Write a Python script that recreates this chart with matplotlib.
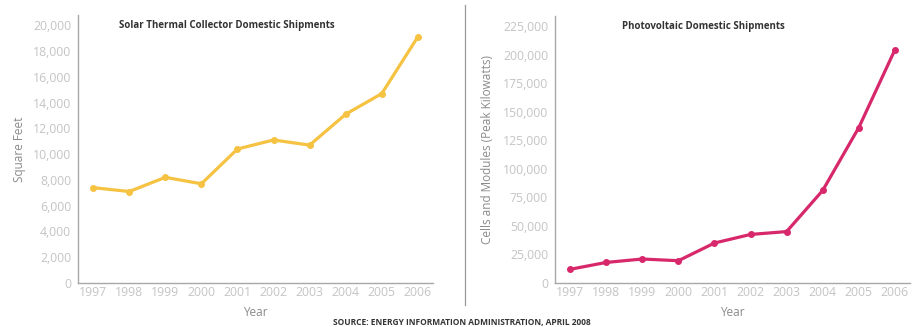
import matplotlib
matplotlib.use("Agg")
import matplotlib.pyplot as plt

years = [1997, 1998, 1999, 2000, 2001, 2002, 2003, 2004, 2005, 2006]
solar_thermal = [7400, 7100, 8200, 7700, 10400, 11100, 10700, 13100, 14700, 19100]
photovoltaic = [12000, 18000, 21000, 19500, 35000, 42500, 45000, 81000, 136000, 204000]

thermal_ticks = list(range(0, 20001, 2000))
pv_ticks = list(range(0, 225001, 25000))

plt.rcParams['font.family'] = ['Open Sans', 'DejaVu Sans']

W, H = 923, 327
fig = plt.figure(figsize=(W / 100, H / 100), dpi=100)
fig.patch.set_facecolor('white')

tick_col = '#c4c4c4'
label_col = '#8a8a8a'
spine_col = '#a8a8a8'


def px_axes(x0, x1, y_top, y_bot):
    return fig.add_axes([x0 / W, (H - y_bot) / H, (x1 - x0) / W, (y_bot - y_top) / H])


def style(ax, ticks, ymax):
    ax.set_xlim(1996.58, 2006.42)
    ax.set_ylim(0, ymax)
    ax.set_xticks(years)
    ax.set_yticks(ticks)
    ax.set_yticklabels([f"{t:,}" for t in ticks])
    for s in ('top', 'right'):
        ax.spines[s].set_visible(False)
    for s in ('left', 'bottom'):
        ax.spines[s].set_color(spine_col)
        ax.spines[s].set_linewidth(1.0)
    ax.tick_params(length=0, labelsize=8.8, labelcolor=tick_col)
    ax.tick_params(axis='y', pad=5)
    ax.tick_params(axis='x', pad=2)
    ax.set_xlabel('Year', fontsize=8.5, color=label_col, labelpad=5)


# left: solar thermal
ax1 = px_axes(78, 433, 15, 283)
ax1.plot(years, solar_thermal, color='#f5c242', lw=2.3, marker='o', ms=4)
style(ax1, thermal_ticks, 20800)
ax1.set_ylabel('Square Feet', fontsize=8.5, color=label_col, labelpad=5)
ax1.text(0.42, 0.962, 'Solar Thermal Collector Domestic Shipments', transform=ax1.transAxes,
         ha='center', va='center', fontsize=7, fontweight='bold', color='#333333')

# right: photovoltaic
ax2 = px_axes(555, 910, 16, 283)
ax2.plot(years, photovoltaic, color='#d8286c', lw=2.3, marker='o', ms=4)
style(ax2, pv_ticks, 233700)
ax2.set_ylabel('Cells and Modules (Peak Kilowatts)', fontsize=8.5, color=label_col, labelpad=6)
ax2.text(0.417, 0.962, 'Photovoltaic Domestic Shipments', transform=ax2.transAxes,
         ha='center', va='center', fontsize=7, fontweight='bold', color='#333333')

# divider between the panels
fig.add_artist(plt.Line2D([465 / W, 465 / W], [(H - 5) / H, (H - 305) / H],
                          color='#999999', lw=0.9))

fig.text(462 / W, (H - 322) / H, 'SOURCE: ENERGY INFORMATION ADMINISTRATION, APRIL 2008',
         ha='center', va='center', fontsize=6, fontweight='bold', color='#333333')

fig.savefig('out.png', dpi=100)
